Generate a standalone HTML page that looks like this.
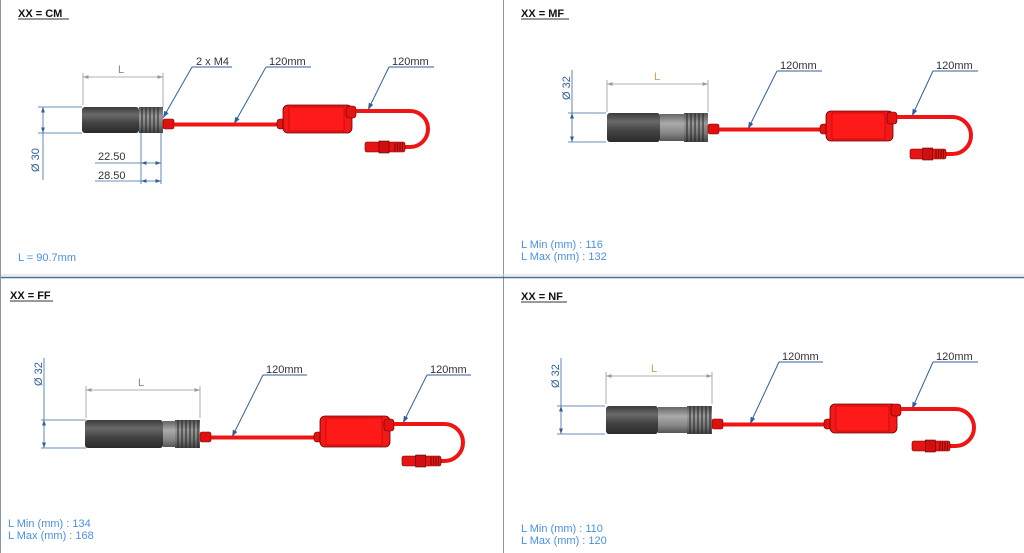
<!DOCTYPE html>
<html><head><meta charset="utf-8">
<style>
html,body{margin:0;padding:0;background:#fff;}
svg{display:block;font-family:"Liberation Sans",sans-serif;}
.t{font-size:11px;fill:#333;}
.h{font-size:11px;font-weight:bold;fill:#111;}
.b{font-size:11px;fill:#4a90e2;}
.ld{stroke:#2f5f9a;stroke-width:1;fill:none;}
.dm{stroke:#999;stroke-width:0.8;fill:none;}
.db{stroke:#3a6aa0;stroke-width:0.8;fill:none;}
</style></head><body>
<svg id="s" width="1024" height="553" viewBox="0 0 1024 553" xmlns="http://www.w3.org/2000/svg">
<defs>
<linearGradient id="gd" x1="0" y1="0" x2="0" y2="1">
<stop offset="0" stop-color="#3a3a3a"/><stop offset="0.3" stop-color="#6a6a6a"/><stop offset="0.6" stop-color="#444"/><stop offset="1" stop-color="#2a2a2a"/></linearGradient>
<linearGradient id="gg" x1="0" y1="0" x2="0" y2="1">
<stop offset="0" stop-color="#666"/><stop offset="0.35" stop-color="#aaa"/><stop offset="0.7" stop-color="#888"/><stop offset="1" stop-color="#555"/></linearGradient>
<linearGradient id="gt" x1="0" y1="0" x2="0" y2="1">
<stop offset="0" stop-color="#555"/><stop offset="0.35" stop-color="#999"/><stop offset="0.7" stop-color="#777"/><stop offset="1" stop-color="#444"/></linearGradient>
<marker id="ab" viewBox="0 0 10 10" refX="10" refY="5" markerWidth="7" markerHeight="7" orient="auto-start-reverse"><path d="M0 1.5 L10 5 L0 8.5z" fill="#2f5f9a"/></marker>
<marker id="ag" viewBox="0 0 10 10" refX="10" refY="5" markerWidth="7" markerHeight="7" orient="auto-start-reverse"><path d="M0 1.5 L10 5 L0 8.5z" fill="#999"/></marker>
</defs>
<rect x="0" y="0" width="1024" height="553" fill="#fff"/>
<line x1="503.5" y1="0" x2="503.5" y2="553" stroke="#8a95a5" stroke-width="1"/>
<line x1="0" y1="275" x2="1024" y2="275" stroke="#d5dbe5" stroke-width="1"/>
<line x1="0" y1="277.5" x2="1024" y2="277.5" stroke="#4f6d90" stroke-width="1.5"/>
<line x1="0.5" y1="0" x2="0.5" y2="553" stroke="#8a95a5" stroke-width="1"/>

<text class="h" x="18" y="17">XX = CM</text><line x1="18" y1="19" x2="69" y2="19" stroke="#333"/>
<text class="h" x="521" y="17">XX = MF</text><line x1="521" y1="19" x2="569" y2="19" stroke="#333"/>
<text class="h" x="10" y="299">XX = FF</text><line x1="10" y1="301" x2="53" y2="301" stroke="#333"/>
<text class="h" x="521" y="300">XX = NF</text><line x1="521" y1="302" x2="567" y2="302" stroke="#333"/>

<text class="b" x="18" y="261">L = 90.7mm</text>
<text class="b" x="521" y="248">L Min (mm) : 116</text>
<text class="b" x="521" y="260">L Max (mm) : 132</text>
<text class="b" x="8" y="527">L Min (mm) : 134</text>
<text class="b" x="8" y="539">L Max (mm) : 168</text>
<text class="b" x="521" y="532">L Min (mm) : 110</text>
<text class="b" x="521" y="544">L Max (mm) : 120</text>

<!-- CM dims -->
<line class="dm" x1="83" y1="73" x2="83" y2="105"/><line class="dm" x1="163" y1="73" x2="163" y2="107"/>
<line class="dm" x1="83" y1="77" x2="163" y2="77" marker-start="url(#ag)" marker-end="url(#ag)"/><text class="t" x="118" y="73" style="fill:#888">L</text>
<line class="db" x1="38" y1="107" x2="82" y2="107"/><line class="db" x1="38" y1="133" x2="82" y2="133"/>
<line class="db" x1="43" y1="107" x2="43" y2="133" marker-start="url(#ab)" marker-end="url(#ab)"/><line class="db" x1="43" y1="133" x2="43" y2="180"/>
<text class="t" transform="translate(39,172) rotate(-90)" style="fill:#2f5f9a">Ø 30</text>
<line class="db" x1="141" y1="125" x2="141" y2="184"/><line class="db" x1="161" y1="125" x2="161" y2="184"/>
<line class="db" x1="95" y1="163" x2="141" y2="163"/><line class="db" x1="141" y1="163" x2="161" y2="163" marker-start="url(#ab)" marker-end="url(#ab)"/>
<line class="db" x1="95" y1="181" x2="141" y2="181"/><line class="db" x1="141" y1="181" x2="161" y2="181" marker-start="url(#ab)" marker-end="url(#ab)"/>
<text class="t" x="98" y="160">22.50</text><text class="t" x="98" y="179">28.50</text>
<text class="t" x="196" y="65">2 x M4</text><line class="ld" x1="192" y1="67" x2="232" y2="67"/><line class="ld" x1="192" y1="67" x2="163" y2="118" marker-end="url(#ab)"/>
<text class="t" x="269" y="65">120mm</text><line class="ld" x1="266" y1="67" x2="311" y2="67"/><line class="ld" x1="266" y1="67" x2="234" y2="124" marker-end="url(#ab)"/>
<text class="t" x="392" y="65">120mm</text><line class="ld" x1="389" y1="67" x2="434" y2="67"/><line class="ld" x1="389" y1="67" x2="368" y2="110" marker-end="url(#ab)"/>

<!-- MF dims -->
<line class="dm" x1="607" y1="80" x2="607" y2="112"/><line class="dm" x1="708" y1="80" x2="708" y2="112"/>
<line class="dm" x1="607" y1="84" x2="708" y2="84" marker-start="url(#ag)" marker-end="url(#ag)"/><text class="t" x="654" y="80" style="fill:#c8a060">L</text>
<line class="db" x1="572" y1="70" x2="572" y2="113"/><line class="db" x1="572" y1="113" x2="572" y2="142" marker-start="url(#ab)" marker-end="url(#ab)"/><line class="db" x1="568" y1="113" x2="606" y2="113"/><line class="db" x1="568" y1="142" x2="606" y2="142"/>
<text class="t" transform="translate(570,100) rotate(-90)" style="fill:#2f5f9a">Ø 32</text>
<text class="t" x="780" y="69">120mm</text><line class="ld" x1="777" y1="71" x2="822" y2="71"/><line class="ld" x1="777" y1="71" x2="748" y2="129" marker-end="url(#ab)"/>
<text class="t" x="936" y="69">120mm</text><line class="ld" x1="933" y1="71" x2="978" y2="71"/><line class="ld" x1="933" y1="71" x2="912" y2="116" marker-end="url(#ab)"/>

<!-- FF dims -->
<line class="dm" x1="86" y1="386" x2="86" y2="418"/><line class="dm" x1="200" y1="386" x2="200" y2="418"/>
<line class="dm" x1="86" y1="390" x2="200" y2="390" marker-start="url(#ag)" marker-end="url(#ag)"/><text class="t" x="138" y="386" style="fill:#888">L</text>
<line class="db" x1="44" y1="358" x2="44" y2="420"/><line class="db" x1="44" y1="420" x2="44" y2="448" marker-start="url(#ab)" marker-end="url(#ab)"/><line class="db" x1="41" y1="420" x2="86" y2="420"/><line class="db" x1="41" y1="448" x2="86" y2="448"/>
<text class="t" transform="translate(42,386) rotate(-90)" style="fill:#2f5f9a">Ø 32</text>
<text class="t" x="266" y="373">120mm</text><line class="ld" x1="263" y1="375" x2="307" y2="375"/><line class="ld" x1="263" y1="375" x2="232" y2="437" marker-end="url(#ab)"/>
<text class="t" x="430" y="373">120mm</text><line class="ld" x1="427" y1="375" x2="471" y2="375"/><line class="ld" x1="427" y1="375" x2="403" y2="423" marker-end="url(#ab)"/>

<!-- NF dims -->
<line class="dm" x1="606" y1="372" x2="606" y2="404"/><line class="dm" x1="712" y1="372" x2="712" y2="404"/>
<line class="dm" x1="606" y1="376" x2="712" y2="376" marker-start="url(#ag)" marker-end="url(#ag)"/><text class="t" x="651" y="372" style="fill:#c8a060">L</text>
<line class="db" x1="561" y1="358" x2="561" y2="406"/><line class="db" x1="561" y1="406" x2="561" y2="434" marker-start="url(#ab)" marker-end="url(#ab)"/><line class="db" x1="557" y1="406" x2="605" y2="406"/><line class="db" x1="557" y1="434" x2="605" y2="434"/>
<text class="t" transform="translate(559,388) rotate(-90)" style="fill:#2f5f9a">Ø 32</text>
<text class="t" x="782" y="360">120mm</text><line class="ld" x1="779" y1="362" x2="823" y2="362"/><line class="ld" x1="779" y1="362" x2="750" y2="424" marker-end="url(#ab)"/>
<text class="t" x="936" y="360">120mm</text><line class="ld" x1="933" y1="362" x2="978" y2="362"/><line class="ld" x1="933" y1="362" x2="912" y2="409" marker-end="url(#ab)"/>
<g id="dev"></g>
</svg>
<script>
var NS="http://www.w3.org/2000/svg",G=document.getElementById("dev");
function el(n,a){var e=document.createElementNS(NS,n);for(var k in a)e.setAttribute(k,a[k]);G.appendChild(e);return e;}
function dev(o){
 var h=o.bot-o.top;
 el("rect",{x:o.x0,y:o.top,width:o.g1-o.x0,height:h,rx:3,fill:"url(#gd)"});
 if(o.g2>o.g1) el("rect",{x:o.g1,y:o.top+1,width:o.g2-o.g1,height:h-2,fill:"url(#gg)"});
 el("rect",{x:o.g2,y:o.top,width:o.g3-o.g2,height:h,fill:"url(#gt)"});
 for(var x=o.g2+3;x<o.g3-1;x+=4) el("line",{x1:x,y1:o.top,x2:x,y2:o.bot,stroke:"#222","stroke-width":1});
 el("rect",{x:o.g3,y:o.cy-6,width:11,height:10,rx:2,fill:"#e01010",stroke:"#700","stroke-width":0.6});
 el("rect",{x:o.g3+11,y:o.cy-2.5,width:o.bL-o.g3-11,height:4,fill:"#f01515"});
 el("rect",{x:o.bL-6,y:o.cy-6,width:10,height:10,rx:3,fill:"#e51212",stroke:"#600","stroke-width":0.6});
 el("rect",{x:o.bL,y:o.bT,width:o.bR-o.bL,height:o.bB-o.bT,rx:5,fill:"#f41818",stroke:"#600","stroke-width":0.8});
 el("rect",{x:o.bL+6,y:o.bT+2,width:o.bR-o.bL-14,height:o.bB-o.bT-4,fill:"#ff1a1a",stroke:"#900","stroke-width":0.5});
 el("rect",{x:o.bR-6,y:o.ry-5,width:10,height:12,rx:3,fill:"#e51212",stroke:"#600","stroke-width":0.6});
 var r=(o.py+5-o.ry)/2;
 el("path",{d:"M"+(o.bR+4)+" "+o.ry+" L"+(o.cx-r)+" "+o.ry+" A"+r+" "+r+" 0 0 1 "+(o.cx-r)+" "+(o.py+5)+" L"+o.pR+" "+(o.py+5),stroke:"#f01515","stroke-width":4,fill:"none"});
 el("rect",{x:o.pL,y:o.py,width:o.pR-o.pL,height:10,rx:2,fill:"#e81414",stroke:"#600","stroke-width":0.6});
 el("rect",{x:o.pL+(o.pR-o.pL)*0.35,y:o.py-1,width:10,height:12,fill:"#d01010",stroke:"#500","stroke-width":0.6});
 for(var x=o.pR-10;x<o.pR;x+=2.5) el("line",{x1:x,y1:o.py+1,x2:x,y2:o.py+9,stroke:"#400","stroke-width":0.7});
}
dev({x0:82,g1:139,g2:139,g3:163,top:107,bot:133,cy:125,bL:283,bR:352,bT:105,bB:133,ry:111,cx:428,py:142,pL:365,pR:405});
dev({x0:607,g1:660,g2:684,g3:708,top:113,bot:142,cy:130,bL:826,bR:893,bT:111,bB:141,ry:117,cx:971,py:149,pL:910,pR:946});
dev({x0:85,g1:163,g2:175,g3:200,top:420,bot:448,cy:438,bL:320,bR:390,bT:416,bB:447,ry:424,cx:463,py:456,pL:402,pR:441});
dev({x0:606,g1:658,g2:687,g3:712,top:406,bot:434,cy:425,bL:830,bR:897,bT:404,bB:433,ry:409,cx:974,py:441,pL:912,pR:950});
</script>
</body></html>
